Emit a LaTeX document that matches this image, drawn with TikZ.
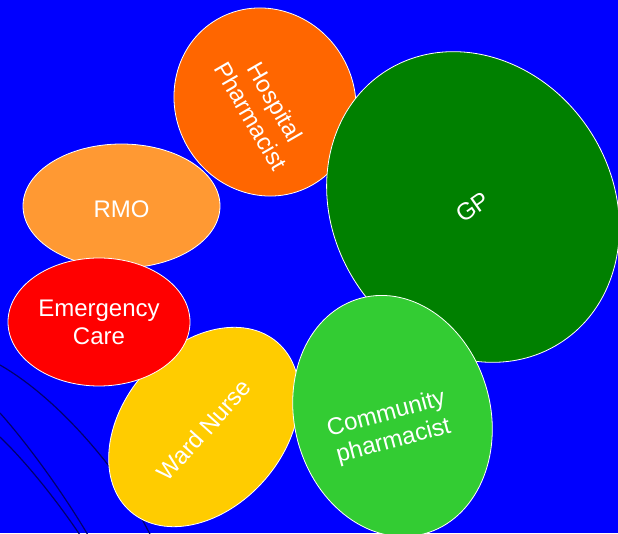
\documentclass[tikz,border=0pt]{standalone}
\usepackage{fontspec}
\setmainfont{Liberation Sans}
\usetikzlibrary{shapes.geometric}
\definecolor{bg}{RGB}{0,0,255}
\definecolor{navyline}{RGB}{0,0,110}
\definecolor{hospc}{RGB}{255,102,0}
\definecolor{gpc}{RGB}{0,128,0}
\definecolor{rmoc}{RGB}{255,153,51}
\definecolor{emc}{RGB}{255,0,0}
\definecolor{wardc}{RGB}{255,204,0}
\definecolor{commc}{RGB}{51,204,51}
\begin{document}
\begin{tikzpicture}[x=1pt,y=1pt,
  blob/.style={ellipse, draw=white, line width=0.8pt, inner sep=0pt, outer sep=0pt},
  lbl/.style={text=white, font=\fontsize{24}{28}\selectfont, align=center, inner sep=0pt},
  deco/.style={draw=navyline, line width=1.2pt}]
\fill[bg] (0,0) rectangle (618,533);
\useasboundingbox (0,0) rectangle (618,533);
\clip (0,0) rectangle (618,533);
% background arcs
\draw[deco] (0,168) .. controls (40,145) and (80,105) .. (112,63) .. controls (128,40) and (140,18) .. (152,-5);
\draw[deco] (0,120) .. controls (25,92) and (60,45) .. (88,-2);
\draw[deco] (0,96) .. controls (25,72) and (55,35) .. (80,-2);
% ellipses
\node[blob, fill=hospc, minimum width=191pt, minimum height=179pt, rotate=-60] (hosp) at (265,431) {};
\node[lbl, rotate=-60] (hospt) at (263,424) {Hospital\\Pharmacist};
\node[blob, fill=gpc, minimum width=279pt, minimum height=323pt, rotate=33] (gp) at (473,326) {};
\node[lbl, rotate=35] (gpt) at (gp.center) {GP};
\node[blob, fill=rmoc, minimum width=197pt, minimum height=124pt] (rmo) at (121.5,327) {};
\node[lbl] (rmot) at (121.5,324) {RMO};
\node[blob, fill=wardc, minimum width=224pt, minimum height=161pt, rotate=49] (ward) at (204,106) {};
\node[lbl, rotate=48] (wardt) at (204,103) {Ward Nurse};
\node[blob, fill=emc, minimum width=182pt, minimum height=128pt] (emerg) at (99,211) {};
\node[lbl] (emergt) at (emerg.center) {Emergency\\Care};
\node[blob, fill=commc, minimum width=196pt, minimum height=244pt, rotate=15] (comm) at (392.5,117) {};
\node[lbl, rotate=15] (commt) at (390,105) {Community\\pharmacist};
\end{tikzpicture}
\end{document}
